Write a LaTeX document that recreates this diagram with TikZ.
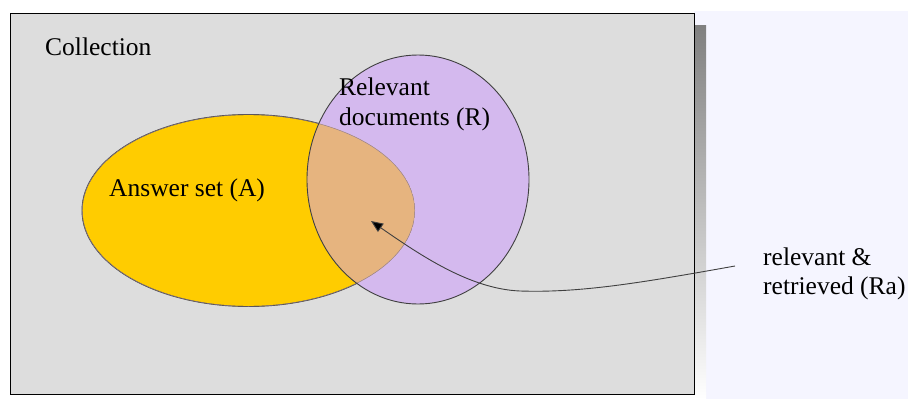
\documentclass[tikz,border=0pt]{standalone}
\usepackage{fontspec}
\setmainfont{Liberation Serif}
\usetikzlibrary{arrows.meta}
\definecolor{pagebg}{HTML}{F5F5FF}
\definecolor{panel}{HTML}{DDDDDD}
\definecolor{shade}{HTML}{808080}
\definecolor{ansfill}{HTML}{FFCC00}
\definecolor{relfill}{HTML}{D4B9EE}
\definecolor{bothfill}{HTML}{E6B47F}
\definecolor{rim}{HTML}{404040}
\definecolor{softrim}{HTML}{8E7C8E}
\begin{document}
\begin{tikzpicture}[x=1pt,y=-1pt,
  txtlbl/.style={inner sep=0pt,anchor=base west,font=\rmfamily\fontsize{25.5}{30}\selectfont},
  setrim/.style={draw=rim,line width=0.9pt}]
\useasboundingbox (0,0) rectangle (908,399);
\clip (0,0) rectangle (908,399);
% page and side band
\fill[white] (0,0) rectangle (908,399);
\fill[pagebg] (694,11) rectangle (908,399);
% collection panel with drop shadow
\fill[shade] (22,25) rectangle (706,399);
\filldraw[fill=panel,draw=black,line width=1pt] (10,13) rectangle (694,394);
% answer set and relevant documents
\def\ansE{(248.5,210.5) ellipse [x radius=166.5,y radius=96]}
\def\relE{(418,179.5) ellipse [x radius=111,y radius=124.5]}
\fill[ansfill] \ansE;
\draw[setrim] \ansE;
\fill[relfill] \relE;
\begin{scope}
  \clip \ansE;
  \fill[bothfill] \relE;
  \draw[softrim,line width=0.9pt] \ansE;
\end{scope}
\draw[setrim] \relE;
% texts
\node[txtlbl] (coll) at (45,55) {Collection};
\node[txtlbl] (ans) at (109,196) {Answer set (A)};
\node[txtlbl] (rel1) at (339,95) {Relevant};
\node[txtlbl] (rel2) at (339,125) {documents (R)};
\node[txtlbl] (ra1) at (763,265) {relevant \&};
\node[txtlbl] (ra2) at (763,294) {retrieved (Ra)};
% connector
\coordinate (rastart) at (735,266);
\coordinate (tip) at (371,221);
\draw[rim,line width=0.9pt,-{Triangle[length=12pt,width=10pt,fill=black]}]
  (rastart) .. controls (640,283) and (580,293) .. (520,291)
            .. controls (470,289) and (420,255) .. (tip);
\end{tikzpicture}
\end{document}
